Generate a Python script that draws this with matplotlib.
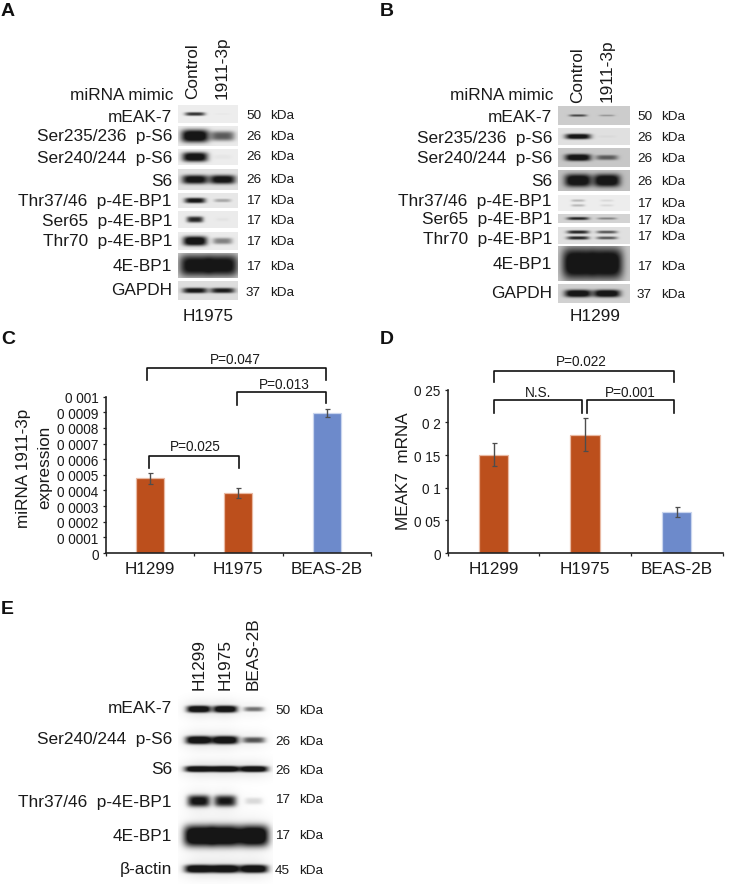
import numpy as np
import matplotlib
matplotlib.use("Agg")
import matplotlib.pyplot as plt

plt.rcParams['font.family'] = ['Liberation Sans', 'DejaVu Sans']

W, H = 731, 887

# ---- data: bar charts ----
cells = ["H1299", "H1975", "BEAS-2B"]
mirna_vals = [0.000478, 0.000384, 0.000896]
mirna_err = [0.000035, 0.000034, 0.000028]
mirna_ticks = [0, 0.0001, 0.0002, 0.0003, 0.0004, 0.0005, 0.0006, 0.0007, 0.0008, 0.0009, 0.001]
mirna_ticklabels = ["0", "0 0001", "0 0002", "0 0003", "0 0004", "0 0005", "0 0006", "0 0007", "0 0008", "0 0009", "0 001"]
meak_vals = [0.1507, 0.181, 0.063]
meak_err = [0.017, 0.025, 0.0073]
meak_ticks = [0, 0.05, 0.1, 0.15, 0.2, 0.25]
meak_ticklabels = ["0", "0 05", "0 1", "0 15", "0 2", "0 25"]

# ---- data: blots ----
a_labels = ["mEAK-7", "Ser235/236  p-S6", "Ser240/244  p-S6", "S6", "Thr37/46  p-4E-BP1",
            "Ser65  p-4E-BP1", "Thr70  p-4E-BP1", "4E-BP1", "GAPDH"]
a_kda = ["50", "26", "26", "26", "17", "17", "17", "17", "37"]
a_bands = [[0.7, 0.02], [1.0, 0.55], [0.95, 0.03], [0.9, 0.9], [0.85, 0.25],
           [0.75, 0.03], [1.0, 0.4], [0.9, 0.9], [0.85, 0.8]]

b_labels = ["mEAK-7", "Ser235/236  p-S6", "Ser240/244  p-S6", "S6", "Thr37/46  p-4E-BP1",
            "Ser65  p-4E-BP1", "Thr70  p-4E-BP1", "4E-BP1", "GAPDH"]
b_kda = ["50", "26", "26", "26", "17", "17", "17", "17", "37"]
b_bands = [[0.6, 0.25], [0.95, 0.03], [1.0, 0.5], [1.0, 1.0], [0.2, 0.08],
           [0.75, 0.35], [0.75, 0.55], [1.0, 1.0], [1.0, 1.0]]

e_labels = ["mEAK-7", "Ser240/244  p-S6", "S6", "Thr37/46  p-4E-BP1", "4E-BP1", "\u03b2-actin"]
e_kda = ["50", "26", "26", "17", "17", "45"]
e_bands = [[1.0, 1.0, 0.45], [1.0, 1.0, 0.55], [1.0, 1.0, 1.0], [0.8, 0.75, 0.12], [1.0, 1.0, 1.0], [1.0, 1.0, 1.0]]

# ---- layout in pixels ----
a_rows = [(106, 124), (127, 147), (150, 166), (170, 191), (194, 209), (212, 229), (233, 251), (254, 279), (282, 301)]
a_band_size = [(11, 2.2), (14, 6.5), (13, 5), (13.5, 4.8), (11, 3), (9, 3.6), (12, 4.8), (16, 11.5), (13, 3)]
a_label_y = [117, 137, 158, 181, 202, 222, 242, 267, 291]
a_kda_y = [116, 137, 157, 180, 201, 221, 242, 267, 293]

b_rows = [(107, 126), (129, 146), (149, 168), (171, 192), (196, 212), (215, 224), (228, 245), (247, 282), (285, 304)]
b_band_size = [(10, 1.5), (13, 2.8), (13, 3.5), (13.5, 6.5), (9, 2.2), (12, 1.8), (12, 2), (16, 16), (13.5, 3.8)]
b_band_offsets = [[0], [0], [0], [0], [-2.5, 2.5], [0], [-3.5, 2.5], [0], [0]]
b_label_y = [117, 138, 159, 181, 202, 220, 240, 265, 294]
b_kda_y = [117, 138, 159, 182, 204, 221, 237, 267, 295]

e_centers = [710, 741, 770, 802, 837, 870]
e_band_size = [(12, 3.4), (13, 4), (14, 3), (12, 6.5), (15, 10.5), (14, 4)]
e_label_y = [709, 740, 770, 803, 837, 870]
e_kda_y = [711, 742, 771, 800, 836, 871]


def bands_image(x0, x1, y0, y1, bg, lanes, rows):
    # rows: (y centre, darkness per lane, half width, half height, halo)
    xs = np.linspace(x0, x1, (x1 - x0) * 3)
    ys = np.linspace(y0, y1, (y1 - y0) * 3)
    xx, yy = np.meshgrid(xs, ys)
    ink = np.zeros_like(xx)
    halo = np.zeros_like(xx)
    for yc, darks, hw, hh, hl in rows:
        for cx, d in zip(lanes, darks):
            w = hw * (0.7 + 0.3 * d)
            h = hh * (0.45 + 0.55 * d)
            ink += 1.25 * d * np.exp(-np.abs((xx - cx) / w) ** 4) * np.exp(-np.abs((yy - yc) / h) ** 3)
            if hl > 0:
                halo += hl * d * np.exp(-((xx - cx) / (w * 1.25)) ** 2 - ((yy - yc) / (h + 6)) ** 2)
    return bg * (1 - np.clip(ink + halo, 0, 1)) + 0.09 * np.clip(ink, 0, 1)


fig = plt.figure(figsize=(W / 100, H / 100), dpi=100)
bg_ax = fig.add_axes([0, 0, 1, 1])
bg_ax.set_axis_off()


def draw_text(x, y, s, size=12.4, ha='right', va='center', **kw):
    bg_ax.text(x, y, s, fontsize=size, ha=ha, va=va, color='#1a1a1a', **kw)


def blot_panel(labels, kda, bands, rows, sizes, label_y, kda_y, box_x, lanes, label_x, num_x, unit_x, bg_rows, offsets=None):
    for i, (y0, y1) in enumerate(rows):
        yc = (y0 + y1) / 2
        offs = offsets[i] if offsets else [0]
        spec = [(yc + o, bands[i], sizes[i][0], sizes[i][1], 0) for o in offs]
        img = bands_image(box_x[0], box_x[1], y0, y1, bg_rows[i], lanes, spec)
        bg_ax.imshow(img, extent=[box_x[0], box_x[1], y1, y0], cmap='gray', vmin=0, vmax=1,
                     aspect='auto', interpolation='bilinear')
        draw_text(label_x, label_y[i], labels[i])
        draw_text(num_x, kda_y[i], kda[i], size=9.7, ha='left')
        draw_text(unit_x, kda_y[i], "kDa", size=9.7, ha='left')


# panel A
blot_panel(a_labels, a_kda, a_bands, a_rows, a_band_size, a_label_y, a_kda_y,
           (178, 238), (195, 222.7), 172, 246, 270,
           [0.93, 0.92, 0.93, 0.88, 0.91, 0.92, 0.92, 0.8, 0.87])
# panel B
blot_panel(b_labels, b_kda, b_bands, b_rows, b_band_size, b_label_y, b_kda_y,
           (558, 630), (578, 607), 552, 637, 661,
           [0.8, 0.88, 0.78, 0.75, 0.93, 0.83, 0.88, 0.78, 0.82], b_band_offsets)

# panel E has no frame, the bands sit on white
e_spec = [(e_centers[i], e_bands[i], e_band_size[i][0], e_band_size[i][1], 0.1) for i in range(6)]
bg_ax.imshow(bands_image(178, 273, 692, 885, 1.0, (198.7, 225.3, 254), e_spec), extent=[178, 273, 885, 692],
             cmap='gray', vmin=0, vmax=1, aspect='auto', interpolation='bilinear')
for i in range(6):
    draw_text(172, e_label_y[i], e_labels[i])
    draw_text(275, e_kda_y[i], e_kda[i], size=9.7, ha='left')
    draw_text(299, e_kda_y[i], "kDa", size=9.7, ha='left')

# headers above the blots
draw_text(173, 95, "miRNA mimic")
draw_text(193, 99, "Control", ha='center', va='bottom', rotation=90)
draw_text(222, 99, "1911-3p", ha='center', va='bottom', rotation=90)
draw_text(208, 317, "H1975", ha='center')
draw_text(553, 96, "miRNA mimic")
draw_text(578, 103, "Control", ha='center', va='bottom', rotation=90)
draw_text(607.5, 102, "1911-3p", ha='center', va='bottom', rotation=90)
draw_text(595, 317, "H1299", ha='center')
draw_text(199, 690, "H1299", ha='center', va='bottom', rotation=90)
draw_text(225.5, 690, "H1975", ha='center', va='bottom', rotation=90)
draw_text(253, 690, "BEAS-2B", ha='center', va='bottom', rotation=90)

# panel letters
for x, y, s in [(1, 12, "A"), (380, 11, "B"), (1, 340, "C"), (380, 340, "D"), (1, 610, "E")]:
    bg_ax.text(x, y, s, fontsize=14, fontweight='bold', ha='left', va='center', color='#111111')


def bracket(x0, x1, top, bot0, bot1, label, tx, ty):
    bg_ax.plot([x0, x0, x1, x1], [bot0, top, top, bot1], color='#111111', lw=1.2, solid_joinstyle='round')
    draw_text(tx, ty, label, size=9.8, ha='center')


bracket(147.3, 326, 369, 381, 381, "P=0.047", 235, 360)
bracket(236.7, 326, 393, 406, 404, "P=0.013", 284, 385)
bracket(149.3, 239, 456.5, 469, 469, "P=0.025", 195, 447)
bracket(493.7, 674.3, 372, 382.7, 382.7, "P=0.022", 581, 362)
bracket(493.7, 581.7, 401.3, 414.3, 414.3, "N.S.", 538, 393)
bracket(586.7, 674.3, 401.3, 414.3, 414.3, "P=0.001", 630, 393)

draw_text(24, 468, "miRNA 1911-3p", size=12.3, ha='center', rotation=90)
draw_text(45, 467, "expression", size=12.3, ha='center', rotation=90)
draw_text(404, 471, "MEAK7  mRNA", size=12.3, ha='center', rotation=90)

bg_ax.set_xlim(0, W)
bg_ax.set_ylim(H, 0)


def bar_chart(left, right, top, bottom, vals, errs, ticks, ticklabels, ymax):
    ax = fig.add_axes([left / W, 1 - bottom / H, (right - left) / W, (bottom - top) / H])
    ax.patch.set_alpha(0)
    x = np.arange(len(cells))
    colors = ['#BC4F1C', '#BC4F1C', '#6D8ACB']
    edges = ['#E9B9A3', '#E9B9A3', '#C9D5EE']
    ax.bar(x, vals, width=0.32, color=colors, edgecolor=edges, linewidth=0.9)
    ax.errorbar(x, vals, yerr=errs, fmt='none', ecolor='#4d4d4d', elinewidth=1.0, capsize=1.8, capthick=0.9)
    ax.set_xlim(-0.5, 2.5)
    ax.set_ylim(0, ymax)
    ax.set_yticks(ticks, ticklabels)
    ax.set_xticks(x, cells)
    ax.set_xticks([-0.5, 0.5, 1.5, 2.5], minor=True)
    ax.tick_params(axis='x', which='major', length=0, labelsize=12.3, pad=5.5, labelcolor='#1a1a1a')
    ax.tick_params(axis='x', which='minor', length=2, width=0.9, color='#222222')
    ax.tick_params(axis='y', length=2.5, width=0.9, color='#222222', labelsize=9.8, pad=2.5, labelcolor='#1a1a1a')
    for s in ['top', 'right']:
        ax.spines[s].set_visible(False)
    for s in ['left', 'bottom']:
        ax.spines[s].set_linewidth(1.2)
        ax.spines[s].set_color('#222222')
    return ax


bar_chart(105.5, 371, 397.7, 554, mirna_vals, mirna_err, mirna_ticks, mirna_ticklabels, 0.001)
bar_chart(447.7, 722.5, 390.7, 554, meak_vals, meak_err, meak_ticks, meak_ticklabels, 0.25)

fig.savefig("out.png", dpi=100)
